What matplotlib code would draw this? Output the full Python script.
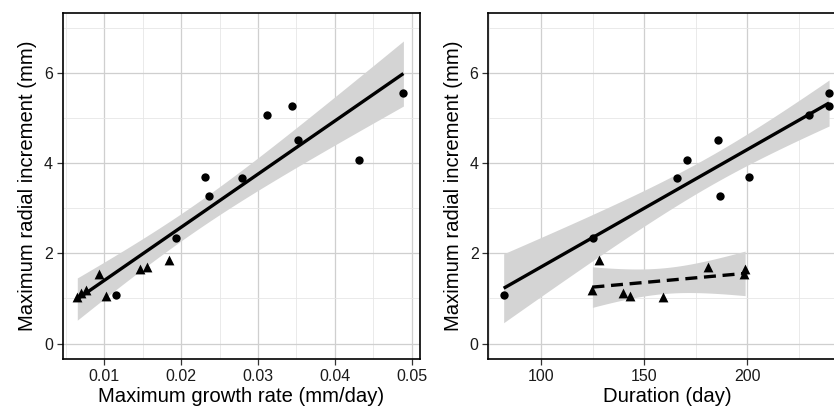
import numpy as np
import matplotlib
matplotlib.use("Agg")
import matplotlib.pyplot as plt
from matplotlib.ticker import FixedLocator

plt.rcParams['font.family'] = ['Liberation Sans', 'DejaVu Sans']

# ---- data ----
# circles
circ_increment = [1.083, 2.33, 3.685, 3.27, 3.66, 5.055, 5.27, 4.51, 4.06, 5.54]
circ_rate      = [0.01148, 0.01933, 0.02306, 0.02358, 0.02787, 0.03117, 0.03438, 0.03516, 0.0431, 0.04892]
circ_duration  = [81.9, 125.0, 201.0, 186.9, 165.9, 229.7, 239.6, 185.8, 170.9, 239.6]
# triangles
tri_increment = [1.03, 1.12, 1.18, 1.55, 1.05, 1.64, 1.695, 1.857]
tri_rate      = [0.00649, 0.0070, 0.00761, 0.00935, 0.01017, 0.01469, 0.0156, 0.01837]
tri_duration  = [159.0, 139.9, 124.9, 198.4, 143.1, 198.9, 180.8, 128.0]

xlabel_left = "Maximum growth rate (mm/day)"
xlabel_right = "Duration (day)"
ylabel = "Maximum radial increment (mm)"

T95 = {6: 2.4469, 8: 2.3060, 16: 2.1199}


def lm_band(x, y, n_grid=80):
    x = np.asarray(x, float)
    y = np.asarray(y, float)
    n = len(x)
    b, a = np.polyfit(x, y, 1)
    resid = y - (a + b * x)
    s = np.sqrt(np.sum(resid ** 2) / (n - 2))
    xm = x.mean()
    sxx = np.sum((x - xm) ** 2)
    g = np.linspace(x.min(), x.max(), n_grid)
    fit = a + b * g
    se = s * np.sqrt(1.0 / n + (g - xm) ** 2 / sxx)
    t = T95[n - 2]
    return g, fit, fit - t * se, fit + t * se


fig = plt.figure(figsize=(8.34, 4.08), dpi=100)
W, H = 834, 408


def ax_at(x0, x1, top, bottom):
    return fig.add_axes([x0 / W, 1 - bottom / H, (x1 - x0) / W, (bottom - top) / H])


axL = ax_at(62.7, 420.0, 12.7, 359.3)
axR = ax_at(488.3, 845.6, 12.7, 359.3)

band_col = '#d4d4d4'
for ax in (axL, axR):
    ax.set_facecolor('white')
    ax.set_ylim(-0.35, 7.33)
    ax.yaxis.set_major_locator(FixedLocator([0, 2, 4, 6]))
    ax.yaxis.set_minor_locator(FixedLocator([1, 3, 5, 7]))
    ax.grid(which='major', color='#cfcfcf', lw=0.9, zorder=0)
    ax.grid(which='minor', color='#e6e6e6', lw=0.6, zorder=0)
    ax.set_axisbelow(True)
    for sp in ax.spines.values():
        sp.set_color('black')
        sp.set_linewidth(1.2)
    ax.tick_params(which='major', direction='out', length=4, width=0.9,
                   color='#333333', labelsize=11.5, labelcolor='#1a1a1a', pad=3)
    ax.tick_params(which='minor', length=0)
    ax.set_ylabel(ylabel, fontsize=14.6, labelpad=5)

# left panel: fit over all points
all_rate = circ_rate + tri_rate
all_inc = circ_increment + tri_increment
g, f, lo, hi = lm_band(all_rate, all_inc)
axL.fill_between(g, lo, hi, color=band_col, lw=0, zorder=1)
axL.plot(g, f, color='black', lw=2.4, zorder=2, solid_capstyle='butt')
axL.scatter(circ_rate, circ_increment, marker='o', s=36, color='black', zorder=3, lw=0)
axL.scatter(tri_rate, tri_increment, marker='^', s=50, color='black', zorder=3, lw=0)
axL.set_xlim(0.00459, 0.05108)
axL.xaxis.set_major_locator(FixedLocator([0.01, 0.02, 0.03, 0.04, 0.05]))
axL.xaxis.set_minor_locator(FixedLocator([0.005, 0.015, 0.025, 0.035, 0.045]))
axL.set_xticklabels(['0.01', '0.02', '0.03', '0.04', '0.05'])
axL.set_xlabel(xlabel_left, fontsize=14.6, labelpad=2.5)

# right panel: separate fits
g, f, lo, hi = lm_band(circ_duration, circ_increment)
axR.fill_between(g, lo, hi, color=band_col, lw=0, zorder=1)
axR.plot(g, f, color='black', lw=2.4, zorder=2, solid_capstyle='butt')
g, f, lo, hi = lm_band(tri_duration, tri_increment)
axR.fill_between(g, lo, hi, color=band_col, lw=0, zorder=1)
axR.plot(g, f, color='black', lw=2.4, zorder=2, ls=(0, (3.6, 2)), dash_capstyle='butt')
axR.scatter(circ_duration, circ_increment, marker='o', s=36, color='black', zorder=3, lw=0)
axR.scatter(tri_duration, tri_increment, marker='^', s=50, color='black', zorder=3, lw=0)
axR.set_xlim(74.45, 247.6)
axR.xaxis.set_major_locator(FixedLocator([100, 150, 200]))
axR.xaxis.set_minor_locator(FixedLocator([75, 125, 175, 225]))
axR.set_xticklabels(['100', '150', '200'])
axR.set_xlabel(xlabel_right, fontsize=14.6, labelpad=2.5)

fig.savefig('out.png', dpi=100)
